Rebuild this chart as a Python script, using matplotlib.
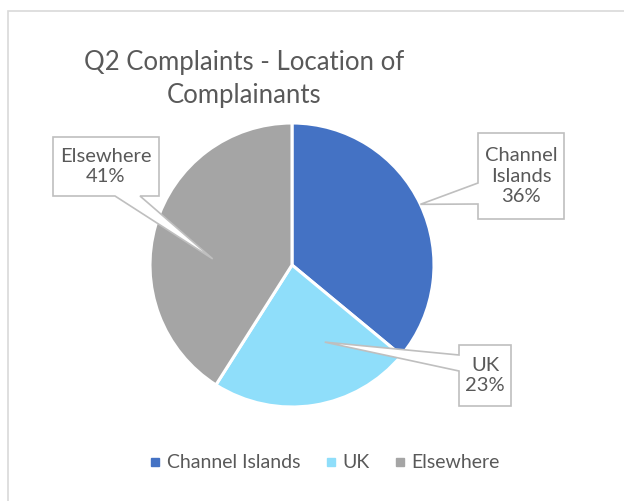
import numpy as np
import matplotlib
matplotlib.use("Agg")
import matplotlib.pyplot as plt
import matplotlib.patches as patches
from matplotlib.lines import Line2D

# data
categories = ["Channel Islands", "UK", "Elsewhere"]
shares = [36, 23, 41]
colors = ["#4472C4", "#8FDEFA", "#A5A5A5"]

W, H = 624, 501
TEXT = "#595959"
FONT = "Lato"


def fy(y):
    # image pixel row -> axes y (y up)
    return H - y


fig = plt.figure(figsize=(W / 100, H / 100), dpi=100)
ax = fig.add_axes([0, 0, 1, 1])

# chart area border (runs off the right / bottom edges)
ax.add_patch(patches.Rectangle((8, -10), W + 20, fy(11) + 10, fill=False,
                               edgecolor="#D9D9D9", linewidth=1.2))

cx, cy, r = 292, fy(265), 142
wedges, _ = ax.pie(shares, colors=colors, startangle=90, counterclock=False,
                   center=(cx, cy), radius=r,
                   wedgeprops=dict(edgecolor="white", linewidth=2.2))

# title
ax.text(244, fy(62), "Q2 Complaints - Location of", ha="center", va="center",
        fontsize=18.5, color=TEXT, family=FONT)
ax.text(244, fy(95), "Complainants", ha="center", va="center",
        fontsize=18.5, color=TEXT, family=FONT)


# callout boxes: (left, top, right, bottom), pointer side, pointer base, tip (angle deg, frac of r)
callouts = [
    dict(box=(478, 133, 564, 219), side="left", base=(183, 204), tip=(25.3, 1.0)),
    dict(box=(459, 345, 511, 406), side="left", base=(355, 371), tip=(-67, 0.59)),
    dict(box=(53, 137, 159, 196), side="bottom", base=(115, 140), tip=(175.6, 0.56)),
]

for cat, share, co in zip(categories, shares, callouts):
    l, t, rr, b = co["box"]
    a, f = co["tip"]
    tx = cx + f * r * np.cos(np.radians(a))
    ty = cy + f * r * np.sin(np.radians(a))
    b1, b2 = co["base"]
    if co["side"] == "left":
        pts = [(l, fy(t)), (rr, fy(t)), (rr, fy(b)), (l, fy(b)),
               (l, fy(b2)), (tx, ty), (l, fy(b1))]
    else:
        pts = [(l, fy(t)), (rr, fy(t)), (rr, fy(b)), (b2, fy(b)),
               (tx, ty), (b1, fy(b)), (l, fy(b))]
    ax.add_patch(patches.Polygon(pts, closed=True, facecolor="white",
                                 edgecolor="#BFBFBF", linewidth=1.2, zorder=5))
    label = cat.replace(" ", "\n") + f"\n{share}%"
    ax.text((l + rr) / 2, fy((t + b) / 2), label, ha="center", va="center",
            fontsize=14.5, color=TEXT, family=FONT, linespacing=1.22, zorder=6)

# legend
handles = [Line2D([], [], marker="s", linestyle="none", markersize=6,
                  markerfacecolor=c, markeredgecolor=c) for c in colors]
leg = ax.legend(handles, categories, loc="center", bbox_to_anchor=(325 / W, 38 / H),
                ncol=3, frameon=False, handlelength=0.5, handletextpad=0.35,
                columnspacing=1.3, prop=dict(family=FONT, size=14))
for txt in leg.get_texts():
    txt.set_color(TEXT)

ax.set_xlim(0, W)
ax.set_ylim(0, H)
ax.set_aspect("equal")
ax.axis("off")

fig.savefig("out.png", dpi=100, facecolor="white")
